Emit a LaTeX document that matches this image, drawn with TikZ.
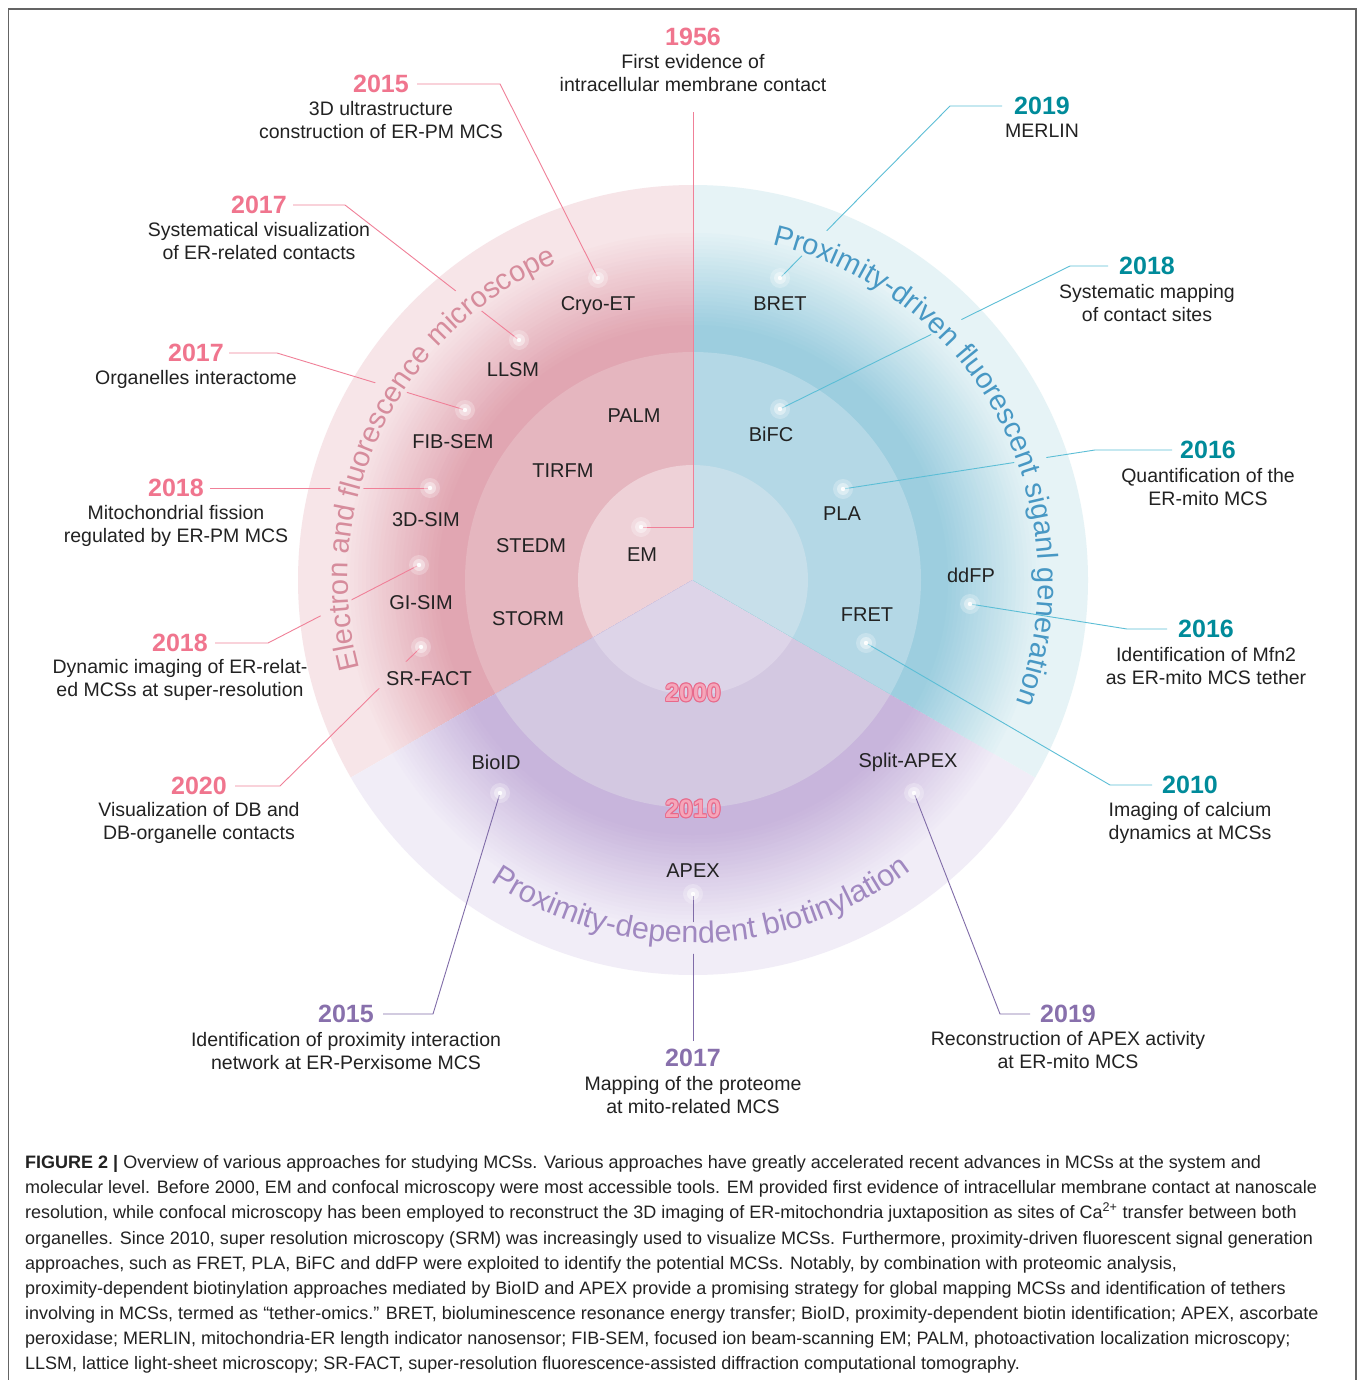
\documentclass[tikz,border=0pt]{standalone}
\usepackage{fontspec}
\setmainfont{Liberation Sans}
\usetikzlibrary{decorations.text,calc}

\definecolor{pIn}{RGB}{229,182,191}
\definecolor{pDark}{RGB}{225,166,178}
\definecolor{pOut}{RGB}{247,229,232}
\definecolor{pCore}{RGB}{238,209,215}
\definecolor{bIn}{RGB}{180,216,230}
\definecolor{bDark}{RGB}{157,206,223}
\definecolor{bOut}{RGB}{230,243,246}
\definecolor{bCore}{RGB}{199,223,234}
\definecolor{vIn}{RGB}{211,200,225}
\definecolor{vDark}{RGB}{200,181,220}
\definecolor{vOut}{RGB}{241,237,247}
\definecolor{vCore}{RGB}{221,212,232}
\definecolor{yP}{RGB}{240,117,142}
\definecolor{yB}{RGB}{0,139,154}
\definecolor{yV}{RGB}{136,112,172}
\definecolor{lP}{RGB}{240,128,152}
\definecolor{lB}{RGB}{92,190,214}
\definecolor{lV}{RGB}{128,108,168}
\definecolor{aP}{RGB}{214,140,156}
\definecolor{aB}{RGB}{72,152,196}
\definecolor{aV}{RGB}{160,136,192}
\definecolor{txt}{RGB}{34,34,34}
\definecolor{oStroke}{RGB}{232,104,138}
\definecolor{oFill}{RGB}{245,166,186}
\definecolor{frameC}{RGB}{100,100,100}

\newcommand\arcfont{\fontsize{29}{29}\selectfont}
\newcommand\arcfontb{\fontsize{30.5}{30.5}\selectfont}
\newcommand\outlinetext[1]{\leavevmode
  \rlap{\textcolor{oStroke}{\kern0.9pt#1}}%
  \rlap{\textcolor{oStroke}{\kern-0.9pt#1}}%
  \rlap{\textcolor{oStroke}{\raisebox{0.9pt}{#1}}}%
  \rlap{\textcolor{oStroke}{\raisebox{-0.9pt}{#1}}}%
  \rlap{\textcolor{oStroke}{\kern0.65pt\raisebox{0.65pt}{#1}}}%
  \rlap{\textcolor{oStroke}{\kern-0.65pt\raisebox{0.65pt}{#1}}}%
  \rlap{\textcolor{oStroke}{\kern0.65pt\raisebox{-0.65pt}{#1}}}%
  \rlap{\textcolor{oStroke}{\kern-0.65pt\raisebox{-0.65pt}{#1}}}%
  \textcolor{oFill}{#1}}
% stepped radial gradient: #1 outer, #2 dark, #3 inside R2, #4 core
\newcommand\ringfill[4]{%
  \fill[#1] (0,0) circle[radius=395pt];
  \foreach \ringi in {0,...,23}{
    \pgfmathtruncatemacro\ringpc{100-100*(\ringi+1)/24}
    \pgfmathsetmacro\ringrr{347-4*\ringi}
    \fill[#1!\ringpc!#2] (0,0) circle[radius=\ringrr pt];
  }
  \fill[#3] (0,0) circle[radius=228pt];
  \fill[#4] (0,0) circle[radius=115pt];
}

\tikzset{
  yr/.style={font=\bfseries\fontsize{25}{25}\selectfont, inner sep=0pt},
  yrP/.style={yr, text=yP},
  yrB/.style={yr, text=yB},
  yrV/.style={yr, text=yV},
  desc/.style={font=\fontsize{19.5}{23}\selectfont, align=center, inner sep=0pt, text=txt},
  meth/.style={font=\fontsize{20}{24}\selectfont, inner sep=0pt, text=txt, text height=14.3pt, text depth=0pt},
  glow/.style={circle, fill=white, fill opacity=0.25, minimum size=20pt, inner sep=0pt},
  lnP/.style={draw=lP, line width=0.9pt},
  lnB/.style={draw=lB, line width=0.9pt},
  lnV/.style={draw=lV, line width=0.9pt},
  capline/.style={anchor=base west, inner sep=0pt, font=\fontsize{18}{25}\selectfont, text=txt},
  frameline/.style={draw=frameC, line width=1.2pt},
}

\begin{document}
\begin{tikzpicture}[x=1pt,y=1pt]
\useasboundingbox (0,0) rectangle (1358,-1380);
\fill[white] (0,0) rectangle (1358,-1380);
\draw[frameline] (8.5,-1380) -- (8.5,-9) -- (1356,-9) -- (1356,-1380);

\coordinate (C) at (693,-580);

% ---------- sectors ----------
\begin{scope}[shift={(693,-580)}]
  \begin{scope}
    \clip (0,0) -- (90:400pt) arc[start angle=90,end angle=210,radius=400pt] -- cycle;
    \ringfill{pOut}{pDark}{pIn}{pCore}
  \end{scope}
  \begin{scope}
    \clip (0,0) -- (210:400pt) arc[start angle=210,end angle=330,radius=400pt] -- cycle;
    \ringfill{vOut}{vDark}{vIn}{vCore}
  \end{scope}
  \begin{scope}
    \clip (0,0) -- (-30:400pt) arc[start angle=-30,end angle=90,radius=400pt] -- cycle;
    \ringfill{bOut}{bDark}{bIn}{bCore}
  \end{scope}
  % curved titles
  \path[decorate, decoration={text along path, text align={align=center},
     text={|\arcfont\color{aP}|Electron and fluorescence microscope}}]
     (214:345pt) arc[start angle=214,end angle=94,radius=345pt];
  \path[decorate, decoration={text along path, text align={align=center},
     text={|\arcfont\color{aB}|Proximity-driven fluorescent siganl generation}}]
     (88:345pt) arc[start angle=88,end angle=-32,radius=345pt];
  \path[decorate, decoration={text along path, text align={align=center},
     text={|\arcfontb\color{aV}|Proximity-dependent biotinylation}}]
     (211.5:363pt) arc[start angle=211.5,end angle=331.5,radius=363pt];
\end{scope}

% ---------- method labels ----------
\node[meth] (mCryo)  at (598,-303) {Cryo-ET};
\node[meth] (mLLSM)  at (513,-369) {LLSM};
\node[meth] (mPALM)  at (634,-415) {PALM};
\node[meth] (mFIB)   at (453,-441) {FIB-SEM};
\node[meth] (mTIRFM) at (563,-470) {TIRFM};
\node[meth] (mSIM)   at (426,-519) {3D-SIM};
\node[meth] (mSTEDM) at (531,-545) {STEDM};
\node[meth] (mEM)    at (642,-554) {EM};
\node[meth] (mGI)    at (421,-602) {GI-SIM};
\node[meth] (mSTORM) at (528,-618) {STORM};
\node[meth] (mSR)    at (429,-678) {SR-FACT};
\node[meth] (mBRET)  at (780,-303) {BRET};
\node[meth] (mBiFC)  at (771,-434) {BiFC};
\node[meth] (mPLA)   at (842,-513) {PLA};
\node[meth] (mDDFP)  at (971,-575) {ddFP};
\node[meth] (mFRET)  at (867,-614) {FRET};
\node[meth] (mBioID) at (496,-762) {BioID};
\node[meth] (mAPEX)  at (693,-870) {APEX};
\node[meth] (mSplit) at (908,-760) {Split-APEX};

% ---------- outlined decade marks ----------
\node[yr] (o2000) at (693,-693) {\outlinetext{2000}};
\node[yr] (o2010) at (693,-809) {\outlinetext{2010}};

% ---------- year labels and descriptions ----------
\node[yrP] (y1956) at (693,-37) {1956};
\node[desc] (t1956) at (693,-73.5) {First evidence of\\intracellular membrane contact};
\node[yrP] (yP15) at (381,-84) {2015};
\node[desc] (tP15) at (381,-120.5) {3D ultrastructure\\construction of ER-PM MCS};
\node[yrP] (yP17a) at (259,-205) {2017};
\node[desc] (tP17a) at (259,-241) {Systematical visualization\\of ER-related contacts};
\node[yrP] (yP17b) at (196,-353) {2017};
\node[desc] (tP17b) at (196,-379) {Organelles interactome};
\node[yrP] (yP18a) at (176,-488) {2018};
\node[desc] (tP18a) at (176,-525.5) {Mitochondrial fission\\regulated by ER-PM MCS};
\node[yrP] (yP18b) at (180,-643) {2018};
\node[desc] (tP18b) at (180,-679.5) {Dynamic imaging of ER-relat-\\ed MCSs at super-resolution};
\node[yrP] (yP20) at (199,-786) {2020};
\node[desc] (tP20) at (199,-822.5) {Visualization of DB and\\DB-organelle contacts};

\node[yrB] (yB19) at (1042,-106) {2019};
\node[desc] (tB19) at (1042,-131) {MERLIN};
\node[yrB] (yB18) at (1147,-266) {2018};
\node[desc] (tB18) at (1147,-303.5) {Systematic mapping\\of contact sites};
\node[yrB] (yB16a) at (1208,-450) {2016};
\node[desc] (tB16a) at (1208,-487.5) {Quantification of the\\ER-mito MCS};
\node[yrB] (yB16b) at (1206,-629) {2016};
\node[desc] (tB16b) at (1206,-666.5) {Identification of Mfn2\\as ER-mito MCS tether};
\node[yrB] (yB10) at (1190,-785) {2010};
\node[desc] (tB10) at (1190,-822.5) {Imaging of calcium\\dynamics at MCSs};

\node[yrV] (yV15) at (346,-1014) {2015};
\node[desc] (tV15) at (346,-1051) {Identification of proximity interaction\\network at ER-Perxisome MCS};
\node[yrV] (yV17) at (693,-1058) {2017};
\node[desc] (tV17) at (693,-1095) {Mapping of the proteome\\at mito-related MCS};
\node[yrV] (yV19) at (1068,-1014) {2019};
\node[desc] (tV19) at (1068,-1050) {Reconstruction of APEX activity\\at ER-mito MCS};

% ---------- dots ----------
\node[glow] (dEM)    at (641,-527) {};
\node[glow] (dCryo)  at (598,-278) {};
\node[glow] (dLLSM)  at (519,-340) {};
\node[glow] (dFIB)   at (465,-410) {};
\node[glow] (dSIM)   at (430,-488) {};
\node[glow] (dGI)    at (419,-565) {};
\node[glow] (dSR)    at (421,-647) {};
\node[glow] (dBRET)  at (780,-278) {};
\node[glow] (dBiFC)  at (780,-409) {};
\node[glow] (dPLA)   at (843,-489) {};
\node[glow] (dDDFP)  at (970,-604) {};
\node[glow] (dFRET)  at (866,-643) {};
\node[glow] (dBioID) at (500,-793) {};
\node[glow] (dAPEX)  at (693,-894) {};
\node[glow] (dSplit) at (914,-793) {};

% ---------- bends ----------
\coordinate (c1956a) at (693,-527);
\coordinate (c1956b) at (693,-112);
\coordinate (cP15) at (500,-84);
\coordinate (cP17a) at (345,-205);
\coordinate (cP17b) at (277,-353);
\coordinate (cP18b) at (268,-643);
\coordinate (cP20) at (280,-786);
\coordinate (cB19) at (950,-106);
\coordinate (cB18) at (1070,-266);
\coordinate (cB16a) at (1095,-450);
\coordinate (cB16b) at (1127,-629);
\coordinate (cB10) at (1110,-785);
\coordinate (cV15) at (433,-1014);
\coordinate (cV19) at (1000,-1014);

% ---------- leader lines (with gaps under curved titles) ----------
\begin{scope}[even odd rule]
  \clip (0,0) rectangle (1358,-1380)
    ($(C)+(113:342pt)$) arc[start angle=113,end angle=195,radius=342pt]
      -- ($(C)+(195:374pt)$) arc[start angle=195,end angle=113,radius=374pt] -- cycle
    ($(C)+(-20:342pt)$) arc[start angle=-20,end angle=76,radius=342pt]
      -- ($(C)+(76:374pt)$) arc[start angle=76,end angle=-20,radius=374pt] -- cycle
    ($(C)+(237:342pt)$) arc[start angle=237,end angle=305,radius=342pt]
      -- ($(C)+(305:374pt)$) arc[start angle=305,end angle=237,radius=374pt] -- cycle
    ([shift={(-14pt,-3pt)}]mSR.south west) rectangle ([shift={(4pt,9pt)}]mSR.north east);
  \draw[lnP] (dEM.center) -- (c1956a) -- (c1956b);
  \draw[lnP] (dCryo.center) -- (cP15) -- ([xshift=8pt]yP15.east);
  \draw[lnP] (dLLSM.center) -- (cP17a) -- ([xshift=6pt]yP17a.east);
  \draw[lnP] (dFIB.center) -- (cP17b) -- ([xshift=5pt]yP17b.east);
  \draw[lnP] (dSIM.center) -- ([xshift=6pt]yP18a.east);
  \draw[lnP] (dGI.center) -- (cP18b) -- ([xshift=7pt]yP18b.east);
  \draw[lnP] (dSR.center) -- (cP20) -- ([xshift=8pt]yP20.east);
  \draw[lnB] (dBRET.center) -- (cB19) -- ([xshift=-12pt]yB19.west);
  \draw[lnB] (dBiFC.center) -- (cB18) -- ([xshift=-11pt]yB18.west);
  \draw[lnB] (dPLA.center) -- (cB16a) -- ([xshift=-8pt]yB16a.west);
  \draw[lnB] (dFRET.center) -- (cB10) -- ([xshift=-10pt]yB10.west);
  \draw[lnV] (dBioID.center) -- (cV15) -- ([xshift=9pt]yV15.east);
  \draw[lnV] (dAPEX.center) -- ([yshift=8pt]yV17.north);
  \draw[lnV] (dSplit.center) -- (cV19) -- ([xshift=-10pt]yV19.west);
\end{scope}
\draw[lnB] (dDDFP.center) -- (cB16b) -- ([xshift=-11pt]yB16b.west);

% glowing dot cores
\foreach \d in {dEM,dCryo,dLLSM,dFIB,dSIM,dGI,dSR,dBRET,dBiFC,dPLA,dDDFP,dFRET,dBioID,dAPEX,dSplit}{
  \fill[white, opacity=0.4] (\d) circle[radius=6pt];
  \fill[white, opacity=0.95] (\d) circle[radius=2.2pt];
}

% ---------- caption ----------
\node[capline] (cap1) at (25,-1168) {\textbf{FIGURE 2 |} Overview of various approaches for studying MCSs. Various approaches have greatly accelerated recent advances in MCSs at the system and};
\node[capline] (cap2) at (25,-1193) {molecular level. Before 2000, EM and confocal microscopy were most accessible tools. EM provided first evidence of intracellular membrane contact at nanoscale};
\node[capline] (cap3) at (25,-1218) {resolution, while confocal microscopy has been employed to reconstruct the 3D imaging of ER-mitochondria juxtaposition as sites of Ca\textsuperscript{2+} transfer between both};
\node[capline] (cap4) at (25,-1244) {organelles. Since 2010, super resolution microscopy (SRM) was increasingly used to visualize MCSs. Furthermore, proximity-driven fluorescent signal generation};
\node[capline] (cap5) at (25,-1269) {approaches, such as FRET, PLA, BiFC and ddFP were exploited to identify the potential MCSs. Notably, by combination with proteomic analysis,};
\node[capline] (cap6) at (25,-1294) {proximity-dependent biotinylation approaches mediated by BioID and APEX provide a promising strategy for global mapping MCSs and identification of tethers};
\node[capline] (cap7) at (25,-1319) {involving in MCSs, termed as “tether-omics.” BRET, bioluminescence resonance energy transfer; BioID, proximity-dependent biotin identification; APEX, ascorbate};
\node[capline] (cap8) at (25,-1344) {peroxidase; MERLIN, mitochondria-ER length indicator nanosensor; FIB-SEM, focused ion beam-scanning EM; PALM, photoactivation localization microscopy;};
\node[capline] (cap9) at (25,-1369) {LLSM, lattice light-sheet microscopy; SR-FACT, super-resolution fluorescence-assisted diffraction computational tomography.};
\end{tikzpicture}
\end{document}
